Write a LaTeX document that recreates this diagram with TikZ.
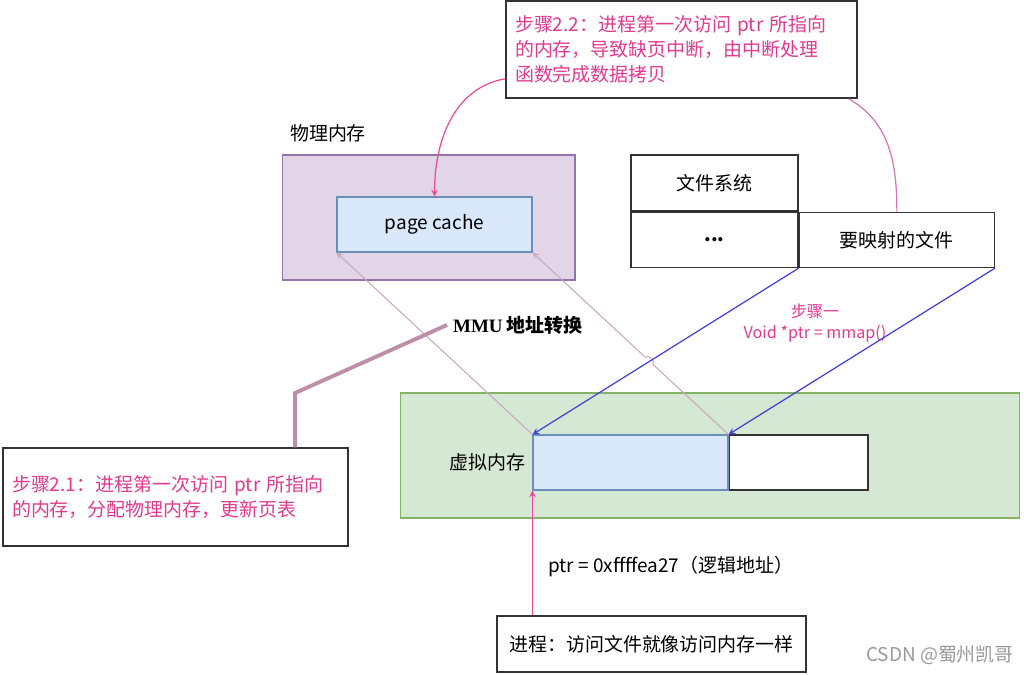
\documentclass[tikz,border=0pt]{standalone}
\usepackage{fontspec}
\setmainfont{Noto Sans CJK SC}
\newfontfamily\mmufont{Liberation Serif}
\usetikzlibrary{positioning,calc}
\definecolor{notepink}{HTML}{E23A8F}
\definecolor{hotpink}{HTML}{EC4A96}
\definecolor{softpink}{HTML}{D775B4}
\definecolor{mapblue}{HTML}{4040D8}
\definecolor{palemauve}{HTML}{C9A8BE}
\definecolor{mmumauve}{HTML}{BE8DA7}
\definecolor{physfill}{HTML}{E1D5E7}
\definecolor{physline}{HTML}{9673A6}
\definecolor{bluefill}{HTML}{DAE8FC}
\definecolor{blueline}{HTML}{6C8EBF}
\definecolor{greenfill}{HTML}{D5E8D4}
\definecolor{greenline}{HTML}{82B366}

\begin{document}
\begin{tikzpicture}[x=0.02cm, y=0.02cm, >=stealth,
    font=\fontsize{10.8}{14.2}\selectfont,
    cell/.style={draw=black!80, line width=0.8pt, fill=white, inner sep=0pt, minimum height=1.1cm},
    bluebox/.style={draw=blueline, line width=0.6pt, fill=bluefill, inner sep=0pt, minimum height=1.1cm},
    note/.style={draw=black!80, line width=0.8pt, fill=white, text=notepink, align=left, text width=#1, inner xsep=0.18cm},
    hotline/.style={draw=hotpink, line width=0.7pt},
    softline/.style={draw=softpink, line width=0.7pt},
    mapline/.style={draw=mapblue, line width=0.7pt},
    paleline/.style={draw=palemauve, line width=0.6pt},
    mmuline/.style={draw=mmumauve, line width=2.2pt}]
	\useasboundingbox (0,0) rectangle (1024,-674);
	% physical memory with the page cache
	\node[draw=physline, line width=0.6pt, fill=physfill, minimum width=5.86cm, minimum height=2.5cm] (phys) at (428.5,-217.5) {};
	\node[bluebox, minimum width=3.9cm] (pc) at (434.5,-224.5) {page cache};
	\node (physlbl) at (328,-133) {物理内存};
	% file system table
	\node[cell, minimum width=3.34cm, minimum height=1.12cm] (fsys) at (714.5,-183) {文件系统};
	\node[cell, minimum width=3.34cm, below=0pt of fsys] (dots) {\textbf{...}};
	\node[cell, minimum width=3.9cm, right=0pt of dots] (mfile) {要映射的文件};
	% virtual memory
	\node[draw=greenline, line width=0.6pt, fill=greenfill, minimum width=12.4cm, minimum height=2.5cm] (virt) at (710,-455.5) {};
	\node[bluebox, minimum width=3.9cm] (vmap) at (630.5,-462.5) {};
	\node[cell, minimum width=2.78cm, right=0pt of vmap] (vfree) {};
	\node[left=0.02cm of vmap] (virtlbl) {虚拟内存};
	% step notes and the process
	\node[note=6.66cm, minimum height=1.94cm] (stepB) at (681.5,-49.5) {步骤2.2：进程第一次访问 ptr 所指向\\的内存，导致缺页中断，由中断处理\\函数完成数据拷贝};
	\node[note=6.54cm, minimum height=1.96cm] (stepA) at (175.5,-497) {步骤2.1：进程第一次访问 ptr 所指向\\的内存，分配物理内存，更新页表};
	\node[cell, minimum width=6.18cm, minimum height=1.12cm] (proc) at (651.5,-644) {进程：访问文件就像访问内存一样};
	% free labels
	\node (mmu) at (518,-325) {{\mmufont\bfseries MMU} {\bfseries 地址转换}};
	\node[text=notepink, align=center, font=\fontsize{9.2}{11.6}\selectfont] (mmap) at (815,-323) {步骤一\\Void *ptr = mmap()};
	\node[anchor=west] (ptr) at (542,-567) {ptr = 0xffffea27（逻辑地址）};
	\node[text=black!40] (mark) at (940,-655) {CSDN @蜀州凯哥};
	% connectors
	\draw[hotline, ->] ([yshift=0.4cm]stepB.south west) to[out=190,in=90] (pc.north);
	\draw[softline] ([xshift=-0.18cm]stepB.south east) to[out=-30,in=90] (mfile.north);
	\draw[paleline, ->] (vmap.north west) -- (pc.south west);
	\draw[paleline, ->] (vmap.north east) -- ($(vmap.north east)!0.385!(pc.south east)$) to[bend right=90] ($(vmap.north east)!0.425!(pc.south east)$) -- (pc.south east);
	\draw[mapline, ->] (dots.south east) -- (vmap.north west);
	\draw[mapline, ->] (mfile.south east) -- (vmap.north east);
	\coordinate (knee) at (295,-393);
	\draw[mmuline] (mmu.west) -- (knee) -- (knee |- stepA.north);
	\draw[hotline, ->] (vmap.south west |- proc.north) -- (vmap.south west);
\end{tikzpicture}
\end{document}
